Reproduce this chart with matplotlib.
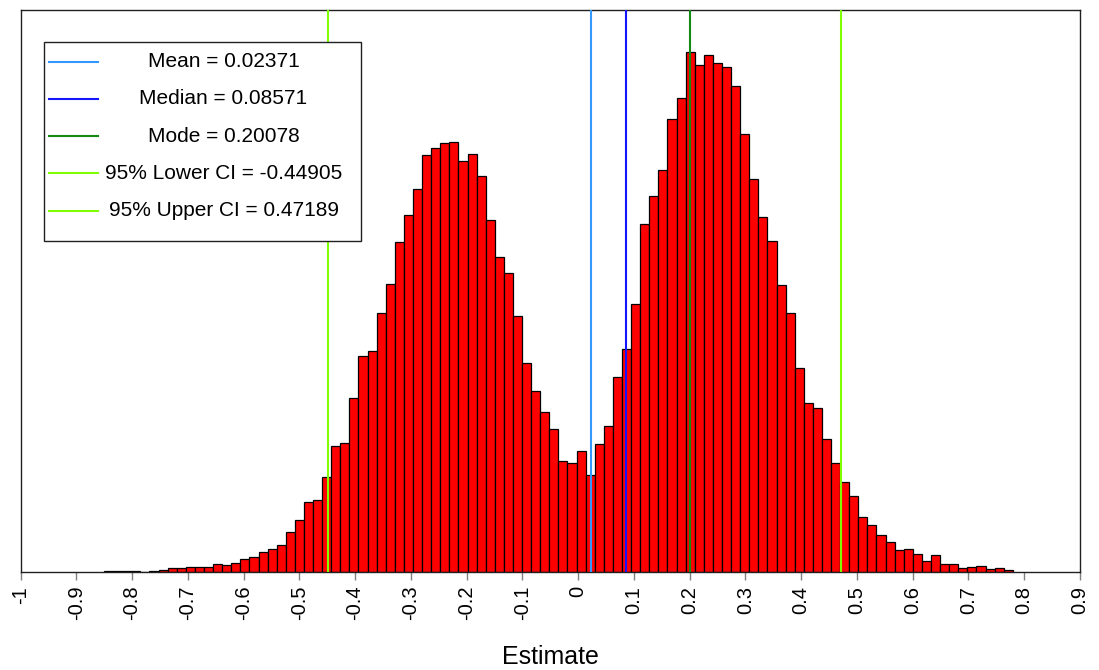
"""Posterior histogram of the estimate with summary lines."""

import matplotlib
matplotlib.use("Agg")
import matplotlib.pyplot as plt
import numpy as np
from matplotlib.patches import Rectangle

plt.rcParams["font.family"] = ["Liberation Sans", "DejaVu Sans"]

# histogram: bin range and bar heights (arbitrary count units, y axis is unlabelled)
bin_lo, bin_hi = -0.8503, 0.7795
counts = [
    1.3, 1.3, 1.3, 1.3, 0.0, 1.3, 2.3, 3.7, 3.7, 4.7,
    4.7, 4.7, 8.0, 6.7, 9.0, 12.7, 15.0, 20.0, 23.0, 27.0,
    39.7, 52.0, 70.0, 72.0, 95.0, 126.0, 129.0, 174.0, 216.0, 221.0,
    259.0, 288.0, 330.0, 357.0, 383.0, 417.0, 424.0, 429.0, 430.0, 411.0,
    418.0, 396.0, 352.0, 315.0, 299.0, 256.0, 209.0, 181.0, 160.0, 143.0,
    111.0, 109.0, 121.0, 97.0, 128.0, 146.0, 195.0, 223.0, 268.0, 348.0,
    376.0, 402.0, 453.0, 474.0, 520.0, 507.0, 517.0, 509.0, 505.0, 486.0,
    438.0, 393.0, 355.0, 331.0, 287.0, 259.0, 204.0, 169.0, 164.0, 133.0,
    109.0, 90.0, 76.0, 55.0, 47.0, 37.0, 30.0, 22.0, 23.0, 18.0,
    11.0, 17.0, 8.0, 8.0, 4.0, 5.0, 6.0, 3.0, 4.0, 2.0,
]

# summary statistics
stat_names = ["Mean", "Median", "Mode", "95% Lower CI", "95% Upper CI"]
stat_values = [0.02371, 0.08571, 0.20078, -0.44905, 0.47189]
stat_colors = ["#3399FF", "#1414FF", "#138A13", "#7FFF00", "#7FFF00"]

x_ticks = np.round(np.arange(-1.0, 0.95, 0.1), 1)
x_tick_labels = ["-1", "-0.9", "-0.8", "-0.7", "-0.6", "-0.5", "-0.4", "-0.3", "-0.2", "-0.1",
                 "0", "0.1", "0.2", "0.3", "0.4", "0.5", "0.6", "0.7", "0.8", "0.9"]

fig = plt.figure(figsize=(10.99, 6.70), dpi=100)
ax = fig.add_axes([0.0187, 0.1463, 0.964, 0.8388])

edges = np.linspace(bin_lo, bin_hi, len(counts) + 1)
ax.bar(edges[:-1], counts, width=np.diff(edges), align="edge",
       color="#FF0000", edgecolor="black", linewidth=0.9, zorder=2)

for val, col in zip(stat_values, stat_colors):
    ax.axvline(val, color=col, linewidth=1.5, zorder=3)

ax.set_xlim(-1.0, 0.9)
ax.set_ylim(0, 562)
ax.set_yticks([])
ax.set_xticks(x_ticks)
ax.set_xticklabels(x_tick_labels, rotation=90, fontsize=14.5)
ax.tick_params(axis="x", direction="out", length=6, width=1, color="#808080", pad=4)
ax.set_xlabel("Estimate", fontsize=18, labelpad=18)
for sp in ax.spines.values():
    sp.set_color("#202020")
    sp.set_linewidth(1)

# legend drawn by hand so the texts can be centred like the original
box_x0, box_x1 = 0.0222, 0.3218
box_y0, box_y1 = 0.5895, 0.9425
ax.add_patch(Rectangle((box_x0, box_y0), box_x1 - box_x0, box_y1 - box_y0,
                       transform=ax.transAxes, facecolor="white",
                       edgecolor="#202020", linewidth=1, zorder=5))
row_top, row_step = 0.9081, 0.0663
for i, (name, val, col) in enumerate(zip(stat_names, stat_values, stat_colors)):
    y = row_top - i * row_step
    ax.plot([0.0269, 0.0731], [y, y], color=col, linewidth=1.5,
            transform=ax.transAxes, zorder=6)
    ax.text(0.1916, y, f"{name} = {val:.5f}", transform=ax.transAxes,
            ha="center", va="center", fontsize=15, zorder=6)

fig.savefig("out.png", dpi=100)
plt.close(fig)
